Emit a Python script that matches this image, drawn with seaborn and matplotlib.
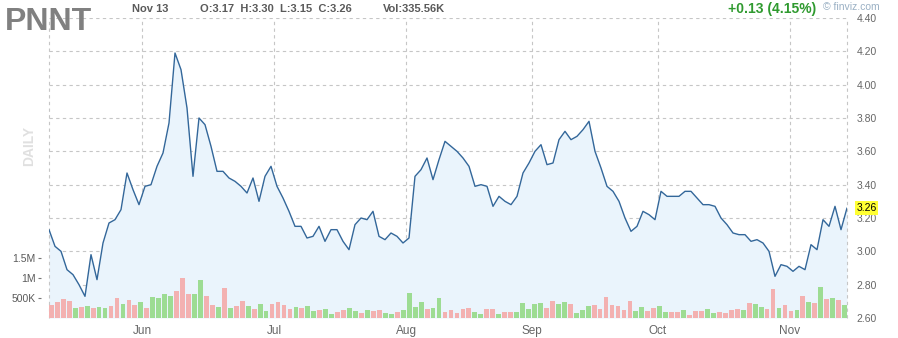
import numpy as np
import pandas as pd
import matplotlib
matplotlib.use("Agg")
import matplotlib.pyplot as plt
import seaborn as sns
from matplotlib.transforms import blended_transform_factory

# ---------------- data ----------------
close = [3.13, 3.03, 3.00, 2.89, 2.86, 2.80, 2.73, 2.98, 2.83, 3.05,
         3.17, 3.19, 3.25, 3.47, 3.37, 3.28, 3.39, 3.40, 3.51, 3.59,
         3.77, 4.19, 4.09, 3.86, 3.45, 3.80, 3.76, 3.63, 3.48, 3.48,
         3.44, 3.42, 3.39, 3.35, 3.44, 3.30, 3.45, 3.51, 3.39, 3.32,
         3.24, 3.15, 3.15, 3.08, 3.09, 3.15, 3.06, 3.13, 3.13, 3.06,
         3.01, 3.16, 3.20, 3.19, 3.24, 3.09, 3.07, 3.11, 3.09, 3.05,
         3.08, 3.45, 3.49, 3.56, 3.43, 3.55, 3.66, 3.63, 3.60, 3.56,
         3.51, 3.39, 3.40, 3.39, 3.27, 3.33, 3.30, 3.28, 3.33, 3.47,
         3.53, 3.60, 3.64, 3.52, 3.53, 3.67, 3.72, 3.67, 3.69, 3.73,
         3.78, 3.60, 3.50, 3.39, 3.36, 3.30, 3.20, 3.12, 3.15, 3.24,
         3.22, 3.19, 3.36, 3.33, 3.33, 3.33, 3.36, 3.36, 3.32, 3.28,
         3.28, 3.27, 3.20, 3.16, 3.11, 3.10, 3.10, 3.06, 3.07, 3.05,
         3.00, 2.85, 2.92, 2.91, 2.88, 2.91, 2.89, 3.04, 3.01, 3.19,
         3.15, 3.27, 3.13, 3.26]

volume_m = [0.33, 0.40, 0.47, 0.43, 0.25, 0.28, 0.30, 0.25, 0.28, 0.25,
            0.30, 0.50, 0.35, 0.45, 0.33, 0.40, 0.25, 0.53, 0.50, 0.60,
            0.55, 0.68, 1.00, 0.60, 0.60, 0.95, 0.55, 0.33, 0.28, 0.75,
            0.25, 0.30, 0.43, 0.30, 0.23, 0.35, 0.18, 0.35, 0.40, 0.33,
            0.23, 0.28, 0.25, 0.30, 0.18, 0.20, 0.23, 0.10, 0.15, 0.20,
            0.25, 0.18, 0.13, 0.20, 0.18, 0.20, 0.13, 0.10, 0.15, 0.20,
            0.63, 0.28, 0.40, 0.23, 0.25, 0.50, 0.15, 0.20, 0.13, 0.23,
            0.25, 0.15, 0.10, 0.23, 0.23, 0.10, 0.15, 0.15, 0.15, 0.38,
            0.23, 0.35, 0.37, 0.25, 0.43, 0.35, 0.40, 0.35, 0.13, 0.20,
            0.30, 0.33, 0.23, 0.53, 0.33, 0.30, 0.20, 0.43, 0.18, 0.28,
            0.18, 0.25, 0.30, 0.15, 0.15, 0.15, 0.20, 0.08, 0.18, 0.18,
            0.23, 0.13, 0.15, 0.13, 0.20, 0.23, 0.20, 0.38, 0.35, 0.28,
            0.23, 0.73, 0.25, 0.33, 0.18, 0.20, 0.55, 0.40, 0.38, 0.78,
            0.48, 0.50, 0.45, 0.336]

direction = ("d d d d u d u d u u "
             "d d u d d u d u u u "
             "u d d d u u d d u d "
             "u d d u d u u d d d "
             "d u d u u d u u d d "
             "u u d u d d u u d u "
             "u u u d u u d d d d "
             "d u u d d u d d u u "
             "u u u d d u u d u u "
             "u d d d d d d d u u "
             "d d u u d d u d d d "
             "u u d d d d u d u u "
             "d d u d d u d u d u "
             "d u d u").split()

price_ticks = [2.60, 2.80, 3.00, 3.20, 3.40, 3.60, 3.80, 4.00, 4.20, 4.40]
vol_ticks = [500_000, 1_000_000, 1_500_000]
vol_labels = ["500K", "1M", "1.5M"]

holidays = ["2020-05-25", "2020-07-03", "2020-09-07"]
dates = pd.bdate_range("2020-05-07", "2020-11-13")
dates = dates[~dates.isin(pd.to_datetime(holidays))]

idx = np.arange(len(close))
df = pd.DataFrame({"i": idx, "close": close})
dfv = pd.DataFrame({"i": idx, "vol": np.array(volume_m) * 1e6, "dir": direction})

# month ticks: boundary before the first trading day of each month
month_first = pd.Series(idx, index=dates).groupby(dates.to_period("M")).first()
month_first = month_first.iloc[1:]
month_pos = [v - 0.5 for v in month_first.values]
month_labels = [p.strftime("%b") for p in month_first.index]

# ---------------- style ----------------
sns.set_style("white")
plt.rcParams["font.family"] = ["Liberation Sans", "DejaVu Sans"]

W, H = 898, 338
fig = plt.figure(figsize=(W / 100, H / 100), dpi=100)
rect = [49 / W, 20 / H, 798 / W, 300 / H]

grid_kw = dict(color="#c6c6c6", lw=0.8, ls=(0, (3, 3)))
line_c = "#33679a"
fill_c = "#eaf4fc"
green = "#9ddc93"
pink = "#f3b1b1"

# price axes
ax = fig.add_axes(rect)
ax.fill_between(df["i"], df["close"], price_ticks[0], color=fill_c, lw=0, zorder=1)
sns.lineplot(data=df, x="i", y="close", ax=ax, color=line_c, lw=1.0, zorder=3)
ax.set_xlim(0, len(close) - 1)
ax.set_ylim(price_ticks[0], price_ticks[-1])
ax.yaxis.tick_right()
ax.set_yticks(price_ticks, [f"{t:.2f}" for t in price_ticks])
ax.set_xticks(month_pos, month_labels)
ax.tick_params(axis="y", length=0, pad=7, labelsize=7.5, labelcolor="#666666")
ax.tick_params(axis="x", length=0, pad=5, labelsize=8.5, labelcolor="#666666")
ax.grid(True, **grid_kw)
ax.set_axisbelow(True)
for s in ax.spines.values():
    s.set_visible(False)
ax.axvline(0, clip_on=False, **grid_kw)
ax.axvline(len(close) - 1, clip_on=False, **grid_kw)
ax.set_xlabel("")
ax.set_ylabel("")

# volume axes
ax_v = fig.add_axes(rect)
ax_v.patch.set_alpha(0)
sns.barplot(data=dfv, x="i", y="vol", hue="dir", palette={"u": green, "d": pink},
            native_scale=True, dodge=False, width=0.8, saturation=1,
            legend=False, linewidth=0, ax=ax_v)
ax_v.set_xlim(-0.4, len(close) - 1 + 0.4)
ax_v.set_ylim(0, 7.5e6)
ax_v.set_xticks([])
ax_v.set_yticks(vol_ticks, vol_labels)
for s in ax_v.spines.values():
    s.set_visible(False)
ax_v.spines["left"].set_position(("outward", 5.5))
ax_v.tick_params(axis="y", left=True, direction="out", length=2.2, width=0.8,
                 color="#777777", pad=2.0, labelsize=7.5, labelcolor="#5a5a5a")
ax_v.set_xlabel("")
ax_v.set_ylabel("")

# current price marker
tr = blended_transform_factory(ax.transAxes, ax.transData)
ax_v.text(1.0 + 9.5 / 798, close[-1], f"{close[-1]:.2f}", transform=tr, ha="left",
          va="center", fontsize=7.5, color="black", zorder=10, clip_on=False,
          bbox=dict(boxstyle="square,pad=0.15", fc="#ffff33", ec="none"))

# header texts
def ft(x, y, s, **kw):
    fig.text(x / W, 1 - y / H, s, **kw)

ft(5, 30, "PNNT", fontsize=23, weight="bold", color="#808080", va="baseline")
ft(132, 9, "Nov 13", fontsize=8, weight="bold", color="#5a5a5a", va="center")
ft(200, 9, "O:3.17  H:3.30  L:3.15  C:3.26", fontsize=8, weight="bold", color="#5a5a5a", va="center")
ft(383, 9, "Vol:335.56K", fontsize=8, weight="bold", color="#5a5a5a", va="center")
ft(728, 8.5, "+0.13 (4.15%)", fontsize=10, weight="bold", color="#2f9a2f", va="center")
ft(823, 7, "\u00a9 finviz.com", fontsize=7.5, color="#9ab0c4", va="center")
ft(29, 146, "DAILY", fontsize=10, weight="bold", color="#e0e0e0", rotation=90,
   ha="center", va="center")

fig.savefig("out.png", dpi=100)
